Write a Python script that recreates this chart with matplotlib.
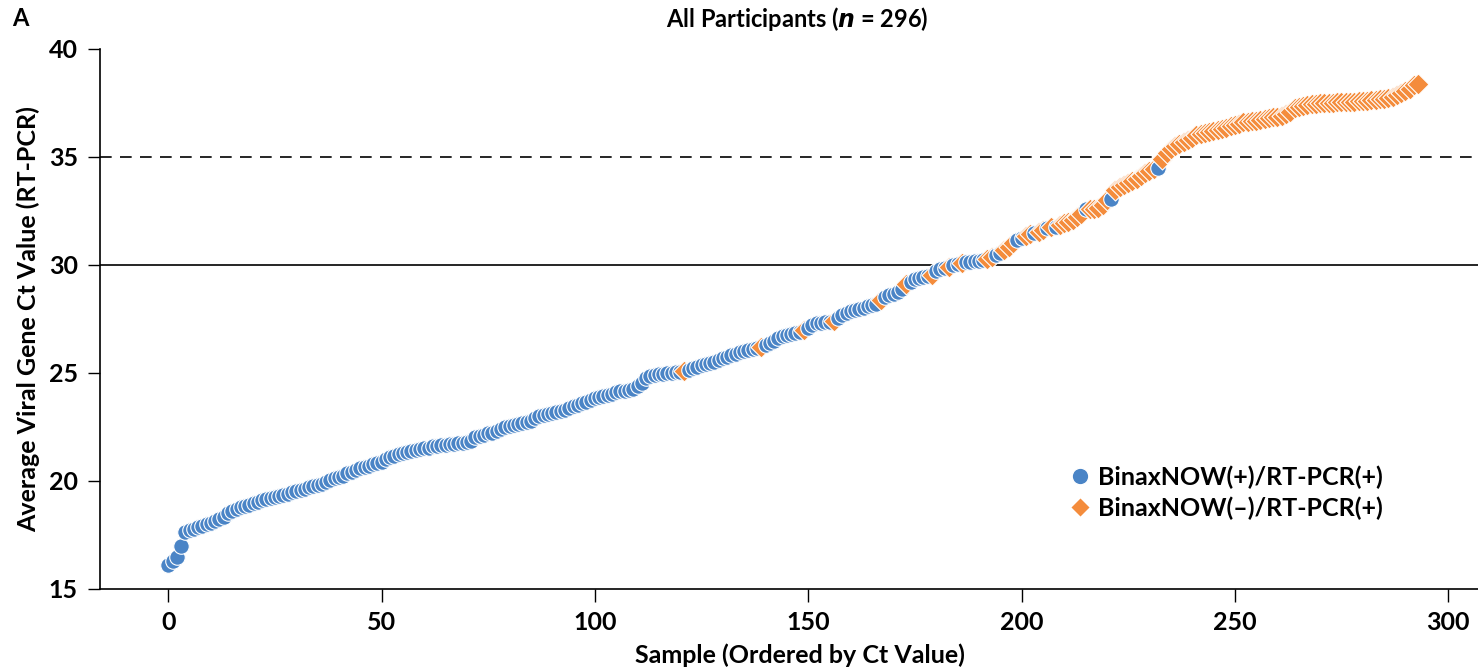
import matplotlib
matplotlib.use("Agg")
import matplotlib.pyplot as plt
from matplotlib.lines import Line2D

# Average viral gene Ct value per sample, ordered by Ct value
ct_values = [
    16.1, 16.3, 16.5, 17.0, 17.65, 17.75, 17.8, 17.85, 17.9, 18.0,
    18.05, 18.15, 18.25, 18.35, 18.5, 18.6, 18.7, 18.8, 18.85, 18.9,
    19.0, 19.05, 19.1, 19.15, 19.2, 19.25, 19.3, 19.35, 19.4, 19.5,
    19.55, 19.6, 19.65, 19.7, 19.75, 19.8, 19.85, 19.95, 20.05, 20.15,
    20.2, 20.25, 20.35, 20.4, 20.5, 20.6, 20.65, 20.7, 20.8, 20.85,
    20.9, 21.0, 21.1, 21.15, 21.25, 21.3, 21.35, 21.4, 21.45, 21.5,
    21.55, 21.55, 21.6, 21.6, 21.65, 21.65, 21.7, 21.7, 21.75, 21.75,
    21.8, 21.85, 22.05, 22.1, 22.15, 22.2, 22.2, 22.3, 22.4, 22.5,
    22.55, 22.6, 22.65, 22.7, 22.75, 22.8, 22.9, 23.0, 23.05, 23.1,
    23.15, 23.2, 23.25, 23.3, 23.4, 23.45, 23.5, 23.6, 23.65, 23.75,
    23.85, 23.9, 23.95, 24.0, 24.05, 24.1, 24.15, 24.15, 24.2, 24.25,
    24.4, 24.55, 24.75, 24.85, 24.9, 24.95, 24.95, 25.0, 25.0, 25.05,
    25.05, 25.1, 25.15, 25.25, 25.3, 25.35, 25.4, 25.45, 25.5, 25.6,
    25.7, 25.75, 25.85, 25.9, 25.95, 26.0, 26.05, 26.1, 26.15, 26.2,
    26.3, 26.4, 26.5, 26.6, 26.7, 26.75, 26.8, 26.85, 26.9, 27.0,
    27.1, 27.2, 27.3, 27.3, 27.35, 27.35, 27.4, 27.55, 27.7, 27.8,
    27.85, 27.9, 27.95, 28.0, 28.1, 28.15, 28.2, 28.4, 28.5, 28.6,
    28.65, 28.75, 28.9, 29.1, 29.2, 29.35, 29.4, 29.45, 29.5, 29.55,
    29.7, 29.8, 29.85, 29.9, 30.0, 30.05, 30.1, 30.15, 30.15, 30.2,
    30.2, 30.25, 30.3, 30.35, 30.45, 30.55, 30.7, 30.85, 31.0, 31.15,
    31.25, 31.35, 31.45, 31.5, 31.55, 31.6, 31.7, 31.75, 31.75, 31.85,
    31.95, 32.0, 32.1, 32.2, 32.35, 32.6, 32.6, 32.6, 32.65, 32.8,
    33.0, 33.05, 33.45, 33.6, 33.7, 33.8, 33.9, 34.0, 34.1, 34.25,
    34.35, 34.45, 34.5, 34.9, 35.2, 35.35, 35.5, 35.6, 35.7, 35.8,
    35.9, 36.0, 36.05, 36.1, 36.15, 36.2, 36.25, 36.3, 36.35, 36.45,
    36.5, 36.55, 36.6, 36.6, 36.65, 36.65, 36.7, 36.75, 36.8, 36.85,
    36.85, 36.9, 37.0, 37.1, 37.25, 37.3, 37.35, 37.4, 37.45, 37.45,
    37.5, 37.5, 37.5, 37.5, 37.55, 37.55, 37.55, 37.55, 37.55, 37.6,
    37.6, 37.6, 37.65, 37.65, 37.7, 37.7, 37.75, 37.8, 37.85, 37.95,
    38.05, 38.15, 38.35, 38.4,
]

# BinaxNOW result per sample: P = BinaxNOW(+), N = BinaxNOW(-)
binax_status = "".join([
    "PPPPPPPPPP" * 12,
    "PNPPPPPPPP",
    "PPPPPPPPPN",
    "PPPPPPPPPN",
    "PPPPPPNPPP",
    "PPPPPPPNPP",
    "PPPNPPPPPN",
    "PPPNPPNPPP",
    "PPNNPPNNNP",
    "PNNPNNPNPN",
    "NNNNNPNNNN",
    "NPNNNNNNNN",
    "NNPNNNNNNN",
    "NNNNNNNNNN" * 5,
    "NNNN",
])

x_ticks = [0, 50, 100, 150, 200, 250, 300]
y_ticks = [15, 20, 25, 30, 35, 40]
legend_labels = ["BinaxNOW(+)/RT-PCR(+)", "BinaxNOW(\u2013)/RT-PCR(+)"]

BLUE = "#4a84c6"
ORANGE = "#f48c3c"
FONT = ["Lato", "DejaVu Sans"]

fig = plt.figure(figsize=(14.78, 6.68), dpi=100)
ax = fig.add_axes([100 / 1478, 79 / 668, 1378 / 1478, 540 / 668])

# reference lines
ax.axhline(30, color="black", lw=1.2, zorder=1)
ax.axhline(35, color="black", lw=1.2, ls=(0, (7, 5)), zorder=1)

# draw point by point so later samples sit on top of earlier ones
for i, (ct, s) in enumerate(zip(ct_values, binax_status)):
    if s == "P":
        ax.scatter(i, ct, s=125, marker="o", color=BLUE, edgecolors="white",
                   linewidths=0.8, zorder=2 + i * 0.001)
    else:
        ax.scatter(i, ct, s=115, marker="D", color=ORANGE, edgecolors="white",
                   linewidths=0.8, zorder=2 + i * 0.001)

ax.set_xlim(-16, 307)
ax.set_ylim(15, 40)
ax.set_xticks(x_ticks)
ax.set_yticks(y_ticks)
for sp in ["top", "right"]:
    ax.spines[sp].set_visible(False)
for sp in ["left", "bottom"]:
    ax.spines[sp].set_linewidth(1.2)
ax.tick_params(axis="both", direction="out", length=9, width=1.0, pad=7)
for lab in ax.get_xticklabels() + ax.get_yticklabels():
    lab.set_fontfamily(FONT)
    lab.set_fontsize(18)
    lab.set_fontweight("bold")

ax.set_ylabel("Average Viral Gene Ct Value (RT-PCR)", fontsize=18, family=FONT,
              fontweight="bold", labelpad=6)
fig.text(800 / 1478, 1 - 655 / 668, "Sample (Ordered by Ct Value)", ha="center",
         va="center", fontsize=18, family=FONT, fontweight="bold")

fig.text(797 / 1478, 1 - 19 / 668, "All Participants ($\\mathbfit{n}$ = 296)",
         ha="center", va="center", fontsize=17, family=FONT, fontweight="bold")
fig.text(12 / 1478, 1 - 19 / 668, "A", ha="left", va="center", fontsize=17,
         family=FONT, fontweight="bold")

handles = [
    Line2D([], [], ls="none", marker="o", markersize=12, color=BLUE, markeredgecolor="white"),
    Line2D([], [], ls="none", marker="D", markersize=10.5, color=ORANGE, markeredgecolor="white"),
]
ax.legend(handles, legend_labels, loc="upper left", bbox_to_anchor=(0.684, 0.27),
          frameon=False, handletextpad=0.1, labelspacing=0.3, handlelength=1.2,
          prop={"family": FONT, "size": 18, "weight": "bold"})

fig.savefig("out.png", dpi=100)
